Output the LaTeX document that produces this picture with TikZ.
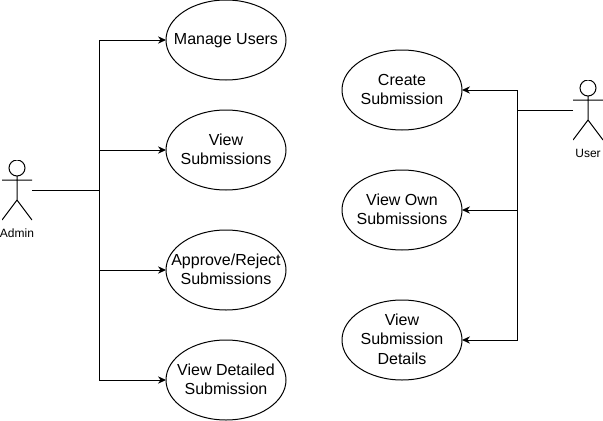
\documentclass[tikz,border=0pt]{standalone}
\usepackage{fontspec}
\setmainfont{Liberation Sans}
\usepackage{tikz}
\usetikzlibrary{arrows.meta, positioning, shapes.geometric}
% text of a use case must not widen its ellipse
\newcommand{\uctext}[1]{\raisebox{-7.5pt}{\smash{\makebox[0pt]{\begin{tabular}[c]{@{}c@{}}#1\end{tabular}}}}}
\tikzset{
  usecase/.style ={ellipse, draw=black, line width=0.75pt, outer sep=0pt, inner sep=0pt,
                   minimum width=90pt, minimum height=60pt,
                   font=\fontsize{12pt}{14.4pt}\selectfont},
  actor/.style   ={rectangle, outer sep=0pt, inner sep=0pt,
                   minimum width=22.5pt, minimum height=45pt,
                   path picture={
                     \draw[line width=0.75pt]
                       (0pt,16.5pt) circle (6pt)
                       (-11.25pt,7.5pt) -- (11.25pt,7.5pt)
                       (0pt,10.5pt) -- (0pt,-7.5pt)
                       (-11.25pt,-22.5pt) -- (0pt,-7.5pt) -- (11.25pt,-22.5pt);
                   }},
  lbl/.style     ={font=\fontsize{9pt}{10.8pt}\selectfont, inner sep=6.75pt},
  ar/.style      ={-{Stealth[length=6pt, width=5.5pt]}, line width=0.75pt, black},
  ln/.style      ={line width=0.75pt, black}
}
\begin{document}
\begin{tikzpicture}
\useasboundingbox (0pt,0pt) rectangle (452.25pt,-315.75pt);

%  Admin side
\node[actor, label={[lbl]below:Admin}] (admin) at (12.75pt,-142.5pt) {};
\node[usecase] (manage) at (169.5pt,-30pt) {\uctext{Manage Users}};
\node[usecase, below=22.5pt of manage] (viewsub) {\uctext{View\\Submissions}};
\node[usecase, below=30pt of viewsub] (approve) {\uctext{Approve/Reject\\Submissions}};
\node[usecase, below=22.5pt of approve] (detailed) {\uctext{View Detailed\\Submission}};
\coordinate[right=50.5pt of admin.east] (admintrunk);

%  User side
\node[actor, label={[lbl]below:User}] (user) at (441pt,-82.5pt) {};
\node[usecase] (create) at (301.5pt,-67.5pt) {\uctext{Create\\Submission}};
\node[usecase, below=30pt of create] (viewown) {\uctext{View Own\\Submissions}};
\node[usecase, below=37.5pt of viewown] (details) {\uctext{View\\Submission\\Details}};
\coordinate[left=42pt of user.west] (usertrunk);

%  Connections
\draw[ln] (admin.east) -- (admintrunk);
\draw[ar] (admintrunk) |- (manage.west);
\draw[ar] (admintrunk) |- (viewsub.west);
\draw[ar] (admintrunk) |- (approve.west);
\draw[ar] (admintrunk) |- (detailed.west);
\draw[ln] (user.west) -- (usertrunk);
\draw[ar] (usertrunk) |- (create.east);
\draw[ar] (usertrunk) |- (viewown.east);
\draw[ar] (usertrunk) |- (details.east);
\end{tikzpicture}
\end{document}
